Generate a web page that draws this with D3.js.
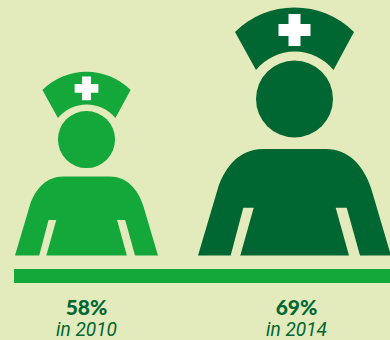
<!DOCTYPE html>
<html>
<head>
<meta charset="utf-8">
<script src="https://cdn.jsdelivr.net/npm/d3@7"></script>
<style>
  html, body { margin: 0; padding: 0; background: #e3eabc; }
  svg { display: block; }
  text { text-anchor: middle; }
  .share { font-family: "Lato", "Open Sans", sans-serif; font-weight: 900; font-size: 21px; }
  .year { font-family: "Roboto", "Noto Sans", sans-serif; font-style: italic; font-size: 20.5px; }
</style>
</head>
<body>
<svg id="chart" width="390" height="340"></svg>
<script>
// Share of nurses by survey year
const years = ["2010", "2014"];
const shares = [58, 69];
const figureColors = ["#14a73a", "#006732"];

const width = 390, height = 340;
const groundY = 255.5;

const xScale = d3.scalePoint().domain(years).range([86.5, 294.5]);
const captionScale = d3.scalePoint().domain(years).range([86.5, 296.5]);
const figureScale = d3.scaleLinear().domain([58, 69]).range([0.741, 1]);

const svg = d3.select("#chart");

// Nurse pictogram outlines, in icon units: x from the centre line, y upwards from the feet
function capPath() {
  return "M-59.5,-223.5 A84.5,84.5 0 0 1 59.5,-223.5 L39,-185.5 A50,50 0 0 0 -38.5,-185.5 Z";
}
function bodyPath() {
  const p = d3.path();
  p.moveTo(-96.5, 0);
  p.lineTo(-76.5, -67.5);
  p.bezierCurveTo(-69, -90, -54, -106.5, -31.5, -106.5);
  p.lineTo(31.5, -106.5);
  p.bezierCurveTo(54, -106.5, 69, -90, 76.5, -67.5);
  p.lineTo(96.5, 0);
  p.lineTo(65.5, 0);
  p.lineTo(52.2, -47.8);
  p.lineTo(41.2, -47.8);
  p.lineTo(54.5, 0);
  p.lineTo(-54.2, 0);
  p.lineTo(-40.8, -47.8);
  p.lineTo(-51.2, -47.8);
  p.lineTo(-63.8, 0);
  p.closePath();
  return p.toString();
}
const crossPath = "M-6,-241.5 H6 V-231.5 H16 V-219.5 H6 V-209.5 H-6 V-219.5 H-16 V-231.5 H-6 Z";

const figures = svg.selectAll("g.figure")
  .data(years.map((year, i) => ({ year, share: shares[i], color: figureColors[i] })))
  .join("g")
  .attr("class", "figure")
  .attr("transform", d => `translate(${xScale(d.year)},${groundY}) scale(${figureScale(d.share)})`)
  .attr("fill", d => d.color);

figures.append("path").attr("d", capPath());
figures.append("path").attr("d", crossPath).attr("fill", "#ffffff");
figures.append("circle").attr("cx", 0).attr("cy", -156.5).attr("r", 38.5);
figures.append("path").attr("d", bodyPath());

// Ground bar
svg.append("rect")
  .attr("x", 14).attr("y", 269)
  .attr("width", width - 14).attr("height", 14)
  .attr("fill", "#14a73a");

// Value and year captions
const captions = svg.selectAll("g.caption")
  .data(years.map((year, i) => ({ year, share: shares[i] })))
  .join("g")
  .attr("class", "caption")
  .attr("transform", d => `translate(${captionScale(d.year)},0)`)
  .attr("fill", "#006732");

captions.append("text")
  .attr("class", "share")
  .attr("y", 315)
  .text(d => `${d.share}%`);

captions.append("text")
  .attr("class", "year")
  .attr("y", 336)
  .attr("textLength", 61)
  .attr("lengthAdjust", "spacingAndGlyphs")
  .text(d => `in ${d.year}`);
</script>
</body>
</html>
